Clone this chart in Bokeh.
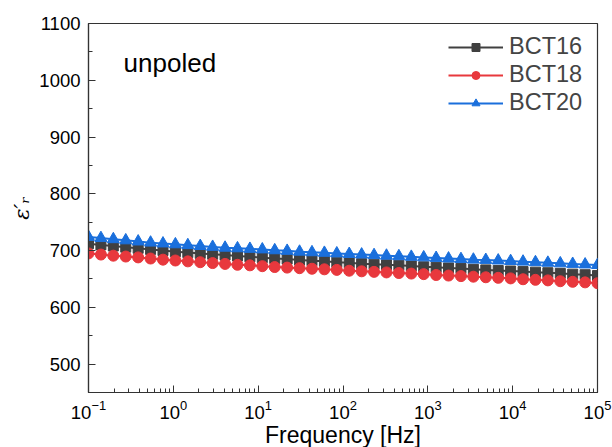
from bokeh.plotting import figure
from bokeh.models import FixedTicker, LogTicker, Label, Legend
from bokeh.embed import file_html
from bokeh.resources import INLINE

freq = [0.1, 0.14007, 0.19620, 0.27482, 0.38495, 0.53921, 0.75529, 1.0578, 1.4817, 2.0755,
        2.9072, 4.0722, 5.7040, 7.9898, 11.191, 15.676, 21.958, 30.757, 43.082, 60.346,
        84.528, 118.40, 165.85, 232.30, 325.39, 455.78, 638.42, 894.25, 1252.6, 1754.5,
        2457.6, 3442.4, 4821.9, 6754.1, 9460.6, 13252, 18562, 26000, 36419, 51013,
        71455, 100000]

bct16 = [712, 710, 708, 706, 704, 702, 700, 698, 696.5, 695,
         693.5, 692, 690.5, 689, 687.5, 686, 685, 683.5, 682, 681,
         679.5, 678.5, 677, 676, 675, 674, 673, 671.5, 670.5, 669.5,
         668.5, 667, 666, 665, 664, 663, 662, 661, 660, 658.5,
         657.5, 656]
bct18 = [695, 693, 691, 689.5, 688, 686, 684, 682.5, 681, 679.5,
         678, 676.5, 675, 674, 672.5, 671, 670, 669, 668, 667,
         666, 664.5, 663.5, 662.5, 661.5, 660.5, 659.5, 658.5, 657, 656,
         655, 654, 653, 652, 651, 649.5, 648.5, 647.5, 646, 645,
         644, 642.5]
bct20 = [724, 722, 720, 718, 716, 714, 712.5, 711, 709.5, 708,
         706.5, 705, 704, 703, 702, 700.5, 699.5, 698, 697, 696,
         695, 694, 693, 692, 691, 690, 689, 688, 687, 686,
         685, 684, 683.5, 682.5, 681.5, 680.5, 679.5, 678.5, 677.5, 676.5,
         675.5, 674.5]

y_ticks = [500, 600, 700, 800, 900, 1000, 1100]
y_minor = [450, 550, 650, 750, 850, 950, 1050]

p = figure(width=612, height=447, x_axis_type="log", x_range=(0.1, 100000), y_range=(450, 1100),
           output_backend="svg", toolbar_location=None,
           min_border_left=88, min_border_right=15, min_border_top=23, min_border_bottom=55)
p.frame_width = 509
p.frame_height = 369
p.grid.visible = False
p.background_fill_color = "white"
p.outline_line_color = "#333333"
p.outline_line_width = 1.2

series = [("BCT16", bct16, "#404040", "square", 10),
          ("BCT18", bct18, "#e8383d", "circle", 11),
          ("BCT20", bct20, "#1a6fdc", "triangle", 12)]
items = []
for name, ys, col, mk, sz in series:
    r1 = p.line(freq, ys, line_color=col, line_width=2)
    r2 = p.scatter(freq, ys, marker=mk, size=sz, fill_color=col, line_color=col)
    items.append((name, [r1, r2]))

legend = Legend(items=items, location=(360, 276), border_line_color=None,
                background_fill_alpha=0, glyph_width=55, glyph_height=20,
                label_text_font="Liberation Sans", label_text_font_size="23.5px",
                label_height=20, label_standoff=6, spacing=1, padding=2, margin=0)
p.add_layout(legend)

p.add_layout(Label(x=0.259, y=1031, text="unpoled", text_font="Liberation Sans",
                   text_font_size="26px", text_baseline="middle", text_color="black"))

for ax in (p.xaxis[0], p.yaxis[0]):
    ax.axis_line_color = "#333333"
    ax.axis_line_width = 1.2
    ax.major_tick_in = 7
    ax.major_tick_out = 0
    ax.minor_tick_in = 4
    ax.minor_tick_out = 0
    ax.major_tick_line_color = "#333333"
    ax.minor_tick_line_color = "#333333"
    ax.major_label_text_font = "Liberation Sans"
    ax.major_label_text_font_size = "18.5px"
    ax.major_label_text_color = "black"
    ax.axis_label_text_font_style = "normal"
    ax.axis_label_text_color = "black"

p.yaxis[0].ticker = FixedTicker(ticks=y_ticks, minor_ticks=y_minor)
p.xaxis[0].ticker = LogTicker(desired_num_ticks=7, num_minor_ticks=10)
p.xaxis[0].axis_label = "Frequency [Hz]"
p.xaxis[0].axis_label_text_font = "Liberation Sans"
p.xaxis[0].axis_label_text_font_size = "23px"
p.xaxis[0].axis_label_standoff = 0
p.xaxis[0].major_label_standoff = 7
p.yaxis[0].axis_label = "\u03b5\u2032\u1d63"
p.yaxis[0].axis_label_text_font = "DejaVu Serif"
p.yaxis[0].axis_label_text_font_style = "italic"
p.yaxis[0].axis_label_text_font_size = "21px"
p.yaxis[0].major_label_standoff = 8
p.yaxis[0].axis_label_standoff = 2

open("out.html", "w").write(file_html(p, INLINE))
